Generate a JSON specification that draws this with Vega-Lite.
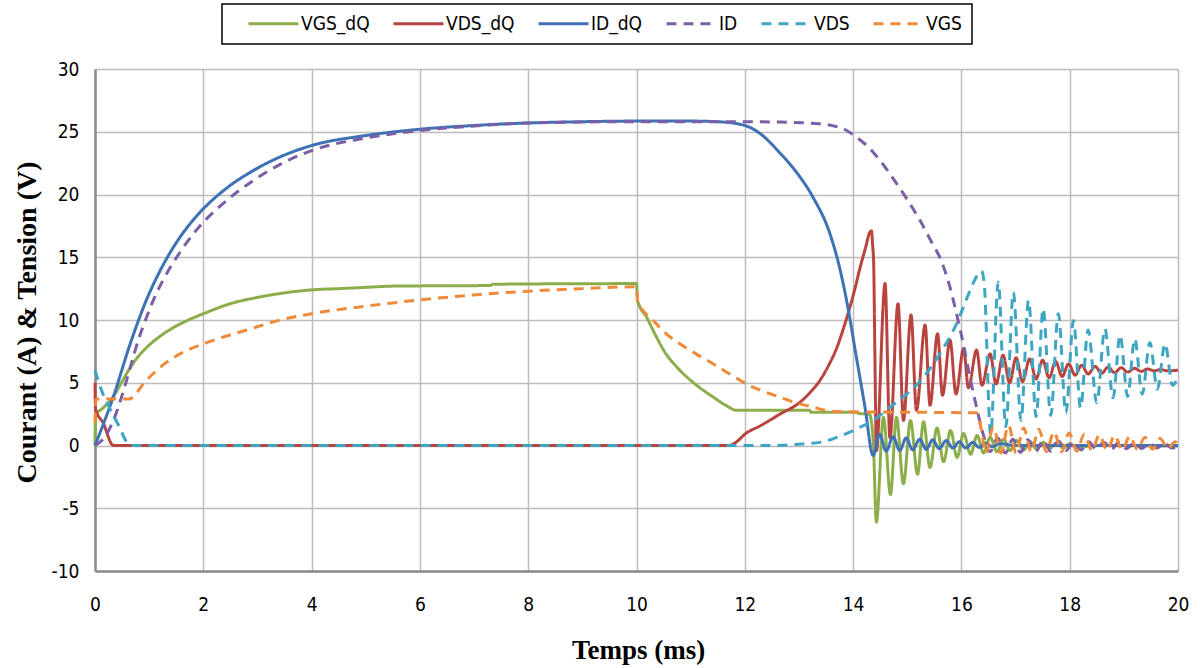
{
"$schema":"https://vega.github.io/schema/vega-lite/v6.json",
"width":1083,"height":502,
"autosize":{"type":"none"},
"padding":{"left":95,"top":69,"right":22,"bottom":97},
"background":"white",
"config":{
 "view":{"stroke":null},
 "axis":{"grid":true,"gridColor":"#bcbcbc","gridWidth":1.5,"domainColor":"#8a8a8a","domainWidth":2.5,"ticks":false,"labelFont":"Liberation Sans Narrow, DejaVu Sans Condensed, Liberation Sans","labelFontSize":19,"labelColor":"#000","labelFlush":false,"labelOverlap":false,"titleFont":"Liberation Serif","titleFontSize":27,"titleFontWeight":"bold","titleColor":"#000"},
 "legend":{"orient":"none","legendX":127,"legendY":-65,"direction":"horizontal","symbolType":"M1.4,0H11.4","symbolSize":100,"symbolStrokeWidth":3,"labelFont":"Liberation Sans Narrow, DejaVu Sans Condensed, Liberation Sans","labelFontSize":19,"labelColor":"#000","columnPadding":7,"labelOffset":50,"padding":10,"strokeColor":"#000","strokeWidth":1.5,"fillColor":"#fff"}
},
"data":{"values":[
{"s":"VGS_dQ","t":0,"v":0},{"s":"VGS_dQ","t":0.01,"v":2.4},{"s":"VGS_dQ","t":0.15,"v":3.0},{"s":"VGS_dQ","t":0.34,"v":3.9},{"s":"VGS_dQ","t":0.5,"v":5.1},{"s":"VGS_dQ","t":0.65,"v":6.2},{"s":"VGS_dQ","t":0.8,"v":7.1},{"s":"VGS_dQ","t":0.95,"v":7.8},{"s":"VGS_dQ","t":1.2,"v":8.7},{"s":"VGS_dQ","t":1.45,"v":9.4},{"s":"VGS_dQ","t":1.7,"v":9.95},{"s":"VGS_dQ","t":2,"v":10.5},{"s":"VGS_dQ","t":2.5,"v":11.3},{"s":"VGS_dQ","t":3,"v":11.8},{"s":"VGS_dQ","t":3.4,"v":12.1},{"s":"VGS_dQ","t":4,"v":12.4},{"s":"VGS_dQ","t":4.5,"v":12.5},{"s":"VGS_dQ","t":5,"v":12.6},{"s":"VGS_dQ","t":5.5,"v":12.7},{"s":"VGS_dQ","t":7.3,"v":12.75},{"s":"VGS_dQ","t":7.35,"v":12.85},{"s":"VGS_dQ","t":10,"v":12.9},{"s":"VGS_dQ","t":10.02,"v":11.55},{"s":"VGS_dQ","t":10.19,"v":10.2},{"s":"VGS_dQ","t":10.35,"v":8.8},{"s":"VGS_dQ","t":10.5,"v":7.6},{"s":"VGS_dQ","t":10.8,"v":6.0},{"s":"VGS_dQ","t":11.11,"v":4.8},{"s":"VGS_dQ","t":11.42,"v":3.85},{"s":"VGS_dQ","t":11.65,"v":3.2},{"s":"VGS_dQ","t":11.85,"v":2.8},{"s":"VGS_dQ","t":13.2,"v":2.8},{"s":"VGS_dQ","t":13.22,"v":2.65},{"s":"VGS_dQ","t":14.07,"v":2.65},{"s":"VGS_dQ","t":14.1,"v":2.55},{"s":"VGS_dQ","t":14.3,"v":2.5},{"s":"VGS_dQ","t":14.37,"v":0.5},{"s":"VGS_dQ","t":14.43,"v":-6.1},{"s":"VGS_dQ","t":14.56,"v":2.25},{"s":"VGS_dQ","t":14.69,"v":-3.9},{"s":"VGS_dQ","t":14.8,"v":2.25},{"s":"VGS_dQ","t":14.93,"v":-3.05},{"s":"VGS_dQ","t":15.06,"v":2.0},{"s":"VGS_dQ","t":15.19,"v":-2.3},{"s":"VGS_dQ","t":15.3,"v":1.9},{"s":"VGS_dQ","t":15.42,"v":-1.75},{"s":"VGS_dQ","t":15.55,"v":1.4},{"s":"VGS_dQ","t":15.67,"v":-1.3},{"s":"VGS_dQ","t":15.8,"v":1.2},{"s":"VGS_dQ","t":15.92,"v":-0.95},{"s":"VGS_dQ","t":16.04,"v":0.95},{"s":"VGS_dQ","t":16.17,"v":-0.7},{"s":"VGS_dQ","t":16.29,"v":0.8},{"s":"VGS_dQ","t":16.41,"v":-0.6},{"s":"VGS_dQ","t":16.53,"v":0.65},{"s":"VGS_dQ","t":16.66,"v":-0.5},{"s":"VGS_dQ","t":16.78,"v":0.5},{"s":"VGS_dQ","t":16.9,"v":-0.4},{"s":"VGS_dQ","t":17.02,"v":0.4},{"s":"VGS_dQ","t":17.15,"v":-0.35},{"s":"VGS_dQ","t":17.27,"v":0.3},{"s":"VGS_dQ","t":17.39,"v":-0.3},{"s":"VGS_dQ","t":17.51,"v":0.25},{"s":"VGS_dQ","t":17.64,"v":-0.2},{"s":"VGS_dQ","t":17.76,"v":0.2},{"s":"VGS_dQ","t":17.88,"v":-0.2},{"s":"VGS_dQ","t":18,"v":0.15},{"s":"VGS_dQ","t":18.12,"v":-0.15},{"s":"VGS_dQ","t":18.5,"v":0},{"s":"VGS_dQ","t":20,"v":-0.05},
{"s":"VDS_dQ","t":0,"v":5.0},{"s":"VDS_dQ","t":0.01,"v":2.9},{"s":"VDS_dQ","t":0.15,"v":1.8},{"s":"VDS_dQ","t":0.34,"v":0},{"s":"VDS_dQ","t":11.7,"v":0},{"s":"VDS_dQ","t":11.85,"v":0.3},{"s":"VDS_dQ","t":12,"v":0.9},{"s":"VDS_dQ","t":12.3,"v":1.6},{"s":"VDS_dQ","t":12.65,"v":2.5},{"s":"VDS_dQ","t":13.02,"v":3.45},{"s":"VDS_dQ","t":13.2,"v":4.2},{"s":"VDS_dQ","t":13.39,"v":5.2},{"s":"VDS_dQ","t":13.55,"v":6.4},{"s":"VDS_dQ","t":13.7,"v":7.8},{"s":"VDS_dQ","t":13.82,"v":9.3},{"s":"VDS_dQ","t":13.94,"v":11.0},{"s":"VDS_dQ","t":14.04,"v":12.6},{"s":"VDS_dQ","t":14.13,"v":14.2},{"s":"VDS_dQ","t":14.22,"v":15.6},{"s":"VDS_dQ","t":14.31,"v":17.0},{"s":"VDS_dQ","t":14.34,"v":17.1},{"s":"VDS_dQ","t":14.36,"v":16.0},{"s":"VDS_dQ","t":14.38,"v":14.5},{"s":"VDS_dQ","t":14.4,"v":8.1},{"s":"VDS_dQ","t":14.43,"v":-0.4},{"s":"VDS_dQ","t":14.59,"v":12.9},{"s":"VDS_dQ","t":14.68,"v":0.6},{"s":"VDS_dQ","t":14.83,"v":11.3},{"s":"VDS_dQ","t":14.93,"v":2.0},{"s":"VDS_dQ","t":15.07,"v":10.4},{"s":"VDS_dQ","t":15.17,"v":2.8},{"s":"VDS_dQ","t":15.33,"v":9.6},{"s":"VDS_dQ","t":15.42,"v":3.2},{"s":"VDS_dQ","t":15.56,"v":8.9},{"s":"VDS_dQ","t":15.65,"v":4.0},{"s":"VDS_dQ","t":15.79,"v":8.4},{"s":"VDS_dQ","t":15.9,"v":4.1},{"s":"VDS_dQ","t":16.04,"v":7.7},{"s":"VDS_dQ","t":16.13,"v":4.6},{"s":"VDS_dQ","t":16.28,"v":7.6},{"s":"VDS_dQ","t":16.38,"v":4.8},{"s":"VDS_dQ","t":16.53,"v":7.3},{"s":"VDS_dQ","t":16.64,"v":4.9},{"s":"VDS_dQ","t":16.77,"v":7.2},{"s":"VDS_dQ","t":16.89,"v":5.0},{"s":"VDS_dQ","t":17.01,"v":7.0},{"s":"VDS_dQ","t":17.13,"v":5.1},{"s":"VDS_dQ","t":17.26,"v":6.9},{"s":"VDS_dQ","t":17.38,"v":5.3},{"s":"VDS_dQ","t":17.5,"v":6.8},{"s":"VDS_dQ","t":17.62,"v":5.4},{"s":"VDS_dQ","t":17.74,"v":6.7},{"s":"VDS_dQ","t":17.86,"v":5.5},{"s":"VDS_dQ","t":17.98,"v":6.5},{"s":"VDS_dQ","t":18.1,"v":5.6},{"s":"VDS_dQ","t":18.22,"v":6.4},{"s":"VDS_dQ","t":18.34,"v":5.7},{"s":"VDS_dQ","t":18.47,"v":6.3},{"s":"VDS_dQ","t":18.59,"v":5.75},{"s":"VDS_dQ","t":18.71,"v":6.25},{"s":"VDS_dQ","t":18.83,"v":5.8},{"s":"VDS_dQ","t":18.95,"v":6.2},{"s":"VDS_dQ","t":19.07,"v":5.85},{"s":"VDS_dQ","t":19.2,"v":6.15},{"s":"VDS_dQ","t":19.32,"v":5.9},{"s":"VDS_dQ","t":19.44,"v":6.1},{"s":"VDS_dQ","t":19.56,"v":5.95},{"s":"VDS_dQ","t":19.68,"v":6.05},{"s":"VDS_dQ","t":19.8,"v":5.95},{"s":"VDS_dQ","t":20,"v":6.0},
{"s":"ID_dQ","t":0,"v":0},{"s":"ID_dQ","t":0.34,"v":3.9},{"s":"ID_dQ","t":0.65,"v":8.1},{"s":"ID_dQ","t":0.95,"v":11.6},{"s":"ID_dQ","t":1.26,"v":14.4},{"s":"ID_dQ","t":1.57,"v":16.6},{"s":"ID_dQ","t":1.88,"v":18.3},{"s":"ID_dQ","t":2.37,"v":20.3},{"s":"ID_dQ","t":2.92,"v":21.9},{"s":"ID_dQ","t":3.42,"v":23.0},{"s":"ID_dQ","t":4,"v":23.9},{"s":"ID_dQ","t":5,"v":24.7},{"s":"ID_dQ","t":6,"v":25.2},{"s":"ID_dQ","t":7,"v":25.5},{"s":"ID_dQ","t":8,"v":25.7},{"s":"ID_dQ","t":9,"v":25.8},{"s":"ID_dQ","t":10,"v":25.85},{"s":"ID_dQ","t":11,"v":25.85},{"s":"ID_dQ","t":11.5,"v":25.8},{"s":"ID_dQ","t":12,"v":25.5},{"s":"ID_dQ","t":12.3,"v":24.8},{"s":"ID_dQ","t":12.65,"v":23.3},{"s":"ID_dQ","t":12.95,"v":21.8},{"s":"ID_dQ","t":13.27,"v":19.7},{"s":"ID_dQ","t":13.57,"v":16.9},{"s":"ID_dQ","t":13.76,"v":14.0},{"s":"ID_dQ","t":13.88,"v":11.55},{"s":"ID_dQ","t":14.07,"v":6.8},{"s":"ID_dQ","t":14.22,"v":3.05},{"s":"ID_dQ","t":14.37,"v":-0.8},{"s":"ID_dQ","t":14.49,"v":0.9},{"s":"ID_dQ","t":14.61,"v":-0.45},{"s":"ID_dQ","t":14.74,"v":0.7},{"s":"ID_dQ","t":14.86,"v":-0.4},{"s":"ID_dQ","t":14.98,"v":0.6},{"s":"ID_dQ","t":15.1,"v":-0.35},{"s":"ID_dQ","t":15.23,"v":0.5},{"s":"ID_dQ","t":15.35,"v":-0.3},{"s":"ID_dQ","t":15.47,"v":0.45},{"s":"ID_dQ","t":15.59,"v":-0.25},{"s":"ID_dQ","t":15.72,"v":0.4},{"s":"ID_dQ","t":15.84,"v":-0.2},{"s":"ID_dQ","t":15.96,"v":0.3},{"s":"ID_dQ","t":16.08,"v":-0.2},{"s":"ID_dQ","t":16.21,"v":0.25},{"s":"ID_dQ","t":16.33,"v":-0.15},{"s":"ID_dQ","t":16.45,"v":0.2},{"s":"ID_dQ","t":16.57,"v":-0.1},{"s":"ID_dQ","t":16.7,"v":0.15},{"s":"ID_dQ","t":17,"v":0},{"s":"ID_dQ","t":20,"v":0},
{"s":"ID","t":0,"v":0},{"s":"ID","t":0.2,"v":0.8},{"s":"ID","t":0.34,"v":2.0},{"s":"ID","t":0.5,"v":4.0},{"s":"ID","t":0.65,"v":6.2},{"s":"ID","t":0.8,"v":8.4},{"s":"ID","t":0.95,"v":10.2},{"s":"ID","t":1.1,"v":11.8},{"s":"ID","t":1.26,"v":13.2},{"s":"ID","t":1.57,"v":15.4},{"s":"ID","t":1.88,"v":17.2},{"s":"ID","t":2.37,"v":19.3},{"s":"ID","t":2.92,"v":21.1},{"s":"ID","t":3.42,"v":22.4},{"s":"ID","t":4,"v":23.5},{"s":"ID","t":5,"v":24.5},{"s":"ID","t":6,"v":25.1},{"s":"ID","t":7,"v":25.45},{"s":"ID","t":8,"v":25.7},{"s":"ID","t":10,"v":25.8},{"s":"ID","t":12,"v":25.8},{"s":"ID","t":12.65,"v":25.77},{"s":"ID","t":13.45,"v":25.6},{"s":"ID","t":13.7,"v":25.4},{"s":"ID","t":13.88,"v":25.1},{"s":"ID","t":14.05,"v":24.6},{"s":"ID","t":14.25,"v":23.9},{"s":"ID","t":14.5,"v":22.7},{"s":"ID","t":14.75,"v":21.2},{"s":"ID","t":15,"v":19.6},{"s":"ID","t":15.24,"v":17.9},{"s":"ID","t":15.45,"v":16.2},{"s":"ID","t":15.6,"v":15.0},{"s":"ID","t":15.79,"v":12.6},{"s":"ID","t":15.91,"v":10.5},{"s":"ID","t":16.05,"v":7.8},{"s":"ID","t":16.16,"v":5.4},{"s":"ID","t":16.28,"v":3.05},{"s":"ID","t":16.4,"v":0.93},{"s":"ID","t":16.53,"v":-0.5},{"s":"ID","t":16.67,"v":0.6},{"s":"ID","t":16.81,"v":-0.6},{"s":"ID","t":16.95,"v":0.5},{"s":"ID","t":17.09,"v":-0.55},{"s":"ID","t":17.23,"v":0.45},{"s":"ID","t":17.37,"v":-0.5},{"s":"ID","t":17.51,"v":0.4},{"s":"ID","t":17.65,"v":-0.45},{"s":"ID","t":17.79,"v":0.35},{"s":"ID","t":17.93,"v":-0.4},{"s":"ID","t":18.07,"v":0.3},{"s":"ID","t":18.21,"v":-0.35},{"s":"ID","t":18.35,"v":0.3},{"s":"ID","t":18.49,"v":-0.3},{"s":"ID","t":18.63,"v":0.25},{"s":"ID","t":18.77,"v":-0.3},{"s":"ID","t":18.91,"v":0.25},{"s":"ID","t":19.05,"v":-0.25},{"s":"ID","t":19.19,"v":0.2},{"s":"ID","t":19.33,"v":-0.25},{"s":"ID","t":19.47,"v":0.2},{"s":"ID","t":19.61,"v":-0.2},{"s":"ID","t":19.75,"v":0.15},{"s":"ID","t":19.89,"v":-0.2},{"s":"ID","t":20,"v":0},
{"s":"VDS","t":0,"v":6.0},{"s":"VDS","t":0.12,"v":4.4},{"s":"VDS","t":0.28,"v":2.9},{"s":"VDS","t":0.46,"v":1.4},{"s":"VDS","t":0.58,"v":0.3},{"s":"VDS","t":0.65,"v":0},{"s":"VDS","t":12.5,"v":0},{"s":"VDS","t":13.0,"v":0.1},{"s":"VDS","t":13.45,"v":0.3},{"s":"VDS","t":13.76,"v":0.75},{"s":"VDS","t":14.13,"v":1.46},{"s":"VDS","t":14.37,"v":2.0},{"s":"VDS","t":14.68,"v":3.05},{"s":"VDS","t":14.99,"v":4.1},{"s":"VDS","t":15.3,"v":5.44},{"s":"VDS","t":15.6,"v":7.3},{"s":"VDS","t":15.91,"v":9.7},{"s":"VDS","t":16.16,"v":12.35},{"s":"VDS","t":16.3,"v":13.6},{"s":"VDS","t":16.37,"v":13.9},{"s":"VDS","t":16.42,"v":13.0},{"s":"VDS","t":16.54,"v":0.9},{"s":"VDS","t":16.68,"v":13.0},{"s":"VDS","t":16.82,"v":1.5},{"s":"VDS","t":16.96,"v":12.2},{"s":"VDS","t":17.1,"v":2.0},{"s":"VDS","t":17.24,"v":11.55},{"s":"VDS","t":17.38,"v":2.3},{"s":"VDS","t":17.51,"v":10.9},{"s":"VDS","t":17.65,"v":2.4},{"s":"VDS","t":17.79,"v":10.5},{"s":"VDS","t":17.93,"v":2.6},{"s":"VDS","t":18.07,"v":9.96},{"s":"VDS","t":18.2,"v":3.0},{"s":"VDS","t":18.34,"v":9.2},{"s":"VDS","t":18.5,"v":3.4},{"s":"VDS","t":18.65,"v":9.3},{"s":"VDS","t":18.8,"v":3.8},{"s":"VDS","t":18.93,"v":8.8},{"s":"VDS","t":19.07,"v":3.9},{"s":"VDS","t":19.2,"v":8.5},{"s":"VDS","t":19.34,"v":4.1},{"s":"VDS","t":19.48,"v":8.2},{"s":"VDS","t":19.62,"v":4.5},{"s":"VDS","t":19.76,"v":8.1},{"s":"VDS","t":19.9,"v":4.8},{"s":"VDS","t":20,"v":5.5},
{"s":"VGS","t":0,"v":1.8},{"s":"VGS","t":0.02,"v":3.7},{"s":"VGS","t":0.62,"v":3.7},{"s":"VGS","t":0.95,"v":5.2},{"s":"VGS","t":1.25,"v":6.4},{"s":"VGS","t":1.57,"v":7.3},{"s":"VGS","t":2.18,"v":8.37},{"s":"VGS","t":2.8,"v":9.2},{"s":"VGS","t":3.42,"v":10.0},{"s":"VGS","t":4,"v":10.5},{"s":"VGS","t":5,"v":11.1},{"s":"VGS","t":6,"v":11.6},{"s":"VGS","t":7,"v":12.0},{"s":"VGS","t":8,"v":12.3},{"s":"VGS","t":9,"v":12.5},{"s":"VGS","t":10,"v":12.65},{"s":"VGS","t":10.02,"v":11.5},{"s":"VGS","t":10.31,"v":9.96},{"s":"VGS","t":10.55,"v":8.9},{"s":"VGS","t":10.8,"v":8.1},{"s":"VGS","t":11.1,"v":7.3},{"s":"VGS","t":11.42,"v":6.5},{"s":"VGS","t":11.72,"v":5.7},{"s":"VGS","t":12.03,"v":4.9},{"s":"VGS","t":12.35,"v":4.3},{"s":"VGS","t":12.65,"v":3.85},{"s":"VGS","t":12.95,"v":3.4},{"s":"VGS","t":13.27,"v":3.05},{"s":"VGS","t":13.5,"v":2.8},{"s":"VGS","t":13.7,"v":2.7},{"s":"VGS","t":16.28,"v":2.6},{"s":"VGS","t":16.38,"v":1.0},{"s":"VGS","t":16.45,"v":-0.6},{"s":"VGS","t":16.59,"v":1.5},{"s":"VGS","t":16.73,"v":-0.6},{"s":"VGS","t":16.87,"v":1.6},{"s":"VGS","t":17.01,"v":-0.6},{"s":"VGS","t":17.15,"v":1.4},{"s":"VGS","t":17.29,"v":-0.5},{"s":"VGS","t":17.43,"v":1.3},{"s":"VGS","t":17.57,"v":-0.5},{"s":"VGS","t":17.71,"v":1.1},{"s":"VGS","t":17.85,"v":-0.5},{"s":"VGS","t":17.99,"v":1.0},{"s":"VGS","t":18.13,"v":-0.45},{"s":"VGS","t":18.27,"v":0.9},{"s":"VGS","t":18.41,"v":-0.4},{"s":"VGS","t":18.55,"v":0.85},{"s":"VGS","t":18.69,"v":-0.4},{"s":"VGS","t":18.83,"v":0.8},{"s":"VGS","t":18.97,"v":-0.35},{"s":"VGS","t":19.11,"v":0.75},{"s":"VGS","t":19.25,"v":-0.3},{"s":"VGS","t":19.39,"v":0.65},{"s":"VGS","t":19.53,"v":-0.3},{"s":"VGS","t":19.67,"v":0.55},{"s":"VGS","t":19.81,"v":-0.25},{"s":"VGS","t":19.95,"v":0.3},{"s":"VGS","t":20,"v":0.1}
]},
"encoding":{
 "x":{"field":"t","type":"quantitative","scale":{"domain":[0,20],"nice":false},"axis":{"values":[0,2,4,6,8,10,12,14,16,18,20],"labelPadding":24,"title":"Temps (ms)","titleX":543,"titleY":79,"titleBaseline":"middle","titleAlign":"center"}},
 "y":{"field":"v","type":"quantitative","scale":{"domain":[-10,30],"nice":false},"axis":{"values":[-10,-5,0,5,10,15,20,25,30],"labelExpr":"replace(datum.label,'−','-')","labelPadding":16,"title":"Courant (A) & Tension (V)","titleX":-68,"titleY":253,"titleAngle":270,"titleBaseline":"middle","titleAlign":"center","titleFontSize":28}},
 "color":{"field":"s","type":"nominal","scale":{"domain":["VGS_dQ","VDS_dQ","ID_dQ","ID","VDS","VGS"],"range":["#8cae4a","#b9443f","#3f72b5","#7b5ea6","#3ea6c2","#f08a38"]},"legend":{"title":null}},
 "strokeDash":{"field":"s","type":"nominal","scale":{"domain":["VGS_dQ","VDS_dQ","ID_dQ","ID","VDS","VGS"],"range":[[1,0],[1,0],[1,0],[10,7],[10,7],[10,7]]},"legend":{"title":null}}
},
"layer":[
 {"transform":[{"filter":"datum.s==='VGS_dQ'"}],"mark":{"type":"line","strokeWidth":3,"interpolate":"monotone"}},
 {"transform":[{"filter":"datum.s==='VDS_dQ'"}],"mark":{"type":"line","strokeWidth":3,"interpolate":"monotone"}},
 {"transform":[{"filter":"datum.s==='ID_dQ'"}],"mark":{"type":"line","strokeWidth":3,"interpolate":"monotone"}},
 {"transform":[{"filter":"datum.s==='ID'"}],"mark":{"type":"line","strokeWidth":3,"interpolate":"monotone"}},
 {"transform":[{"filter":"datum.s==='VDS'"}],"mark":{"type":"line","strokeWidth":3,"interpolate":"monotone"}},
 {"transform":[{"filter":"datum.s==='VGS'"}],"mark":{"type":"line","strokeWidth":3,"interpolate":"monotone"}}
]
}
